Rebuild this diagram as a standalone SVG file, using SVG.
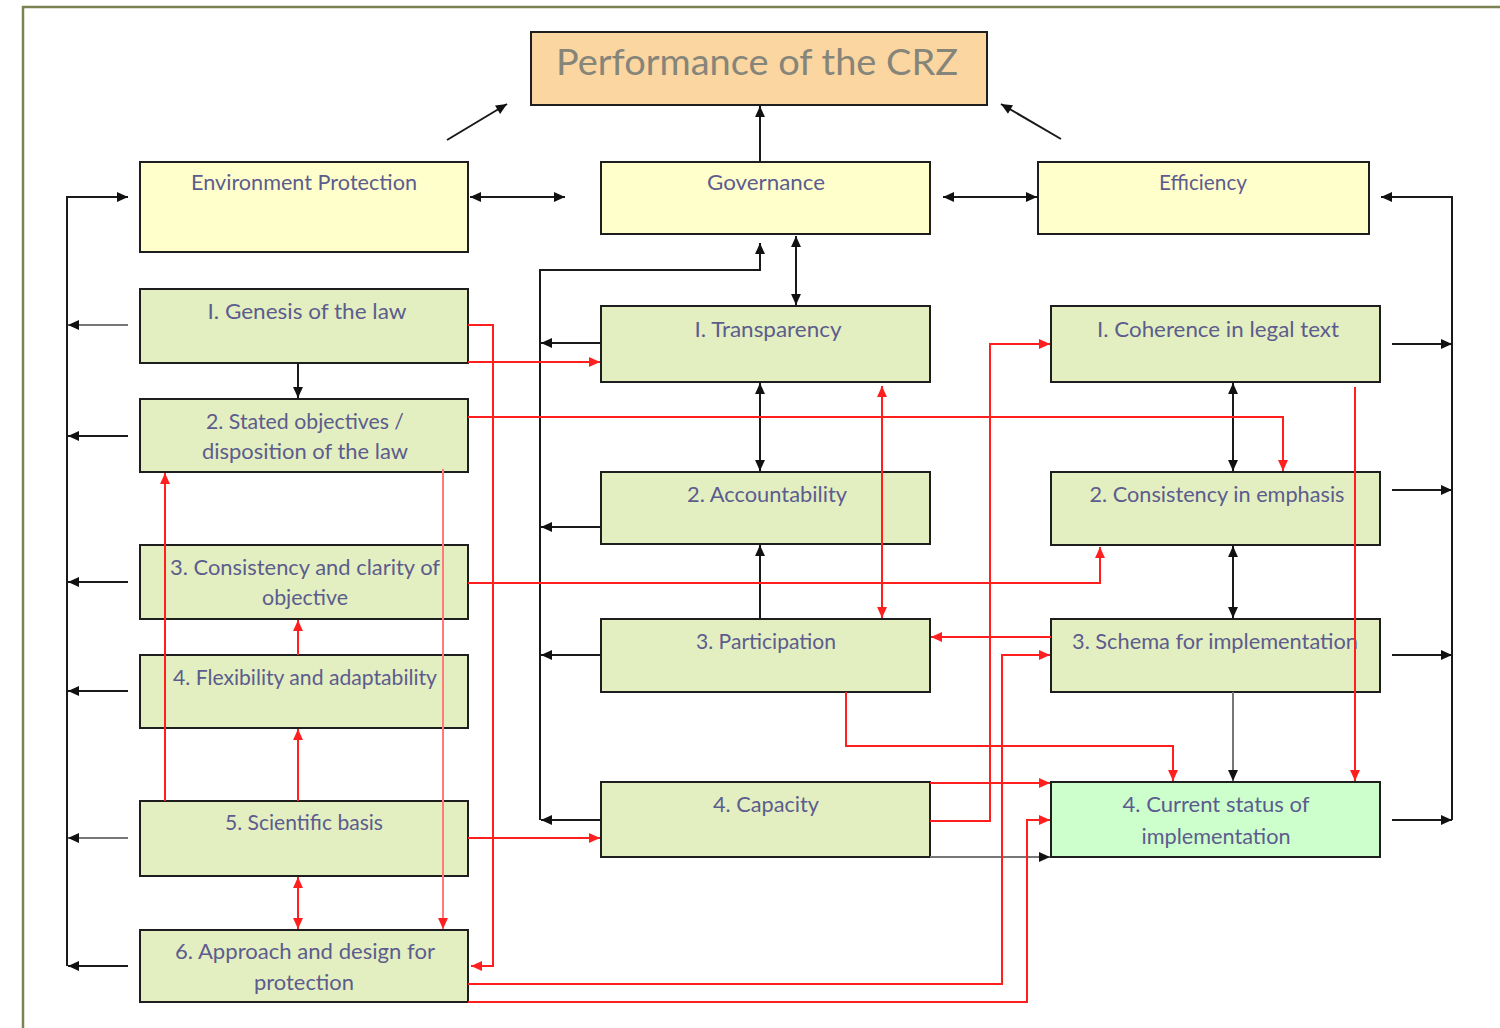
<svg xmlns="http://www.w3.org/2000/svg" width="1500" height="1028" viewBox="0 0 1500 1028">
  <style>
    .box { stroke: #1e1e1e; stroke-width: 2; }
    .top { fill: #ffffcc; }
    .crit { fill: #e3efc0; }
    .done { fill: #ccffcc; }
    .lbl { font-family: Lato, "Open Sans", sans-serif; font-size: 22px; fill: #5c5c8e; text-anchor: middle; }
    .title { font-family: Lato, "Open Sans", sans-serif; font-size: 36px; fill: #85857a; text-anchor: middle; }
    .blk { fill: none; stroke: #1a1a1a; stroke-width: 2; }
    .gry { fill: none; stroke: #777; stroke-width: 2; }
    .red { fill: none; stroke: #ff1f1f; stroke-width: 2; }
    .pink { fill: none; stroke: #ff7a7a; stroke-width: 2; }
  </style>
  <defs>
    <marker id="ab" viewBox="0 0 10 10" refX="10" refY="5" markerWidth="12" markerHeight="11" markerUnits="userSpaceOnUse" orient="auto-start-reverse">
      <path d="M0,0.5 L10,5 L0,9.5 z" fill="#111"/>
    </marker>
    <marker id="ar" viewBox="0 0 10 10" refX="10" refY="5" markerWidth="12" markerHeight="11" markerUnits="userSpaceOnUse" orient="auto-start-reverse">
      <path d="M0,0.5 L10,5 L0,9.5 z" fill="#ff1f1f"/>
    </marker>
  </defs>

  <rect x="0" y="0" width="1500" height="1028" fill="#ffffff"/>
  <!-- page frame -->
  <rect x="23" y="7" width="1520" height="1100" fill="none" stroke="#7c8252" stroke-width="2.5"/>

  <!-- overall goal -->
  <g id="performance">
    <rect class="box" x="531" y="32" width="456" height="73" fill="#fbd6a1"/>
    <text class="title" x="757" y="75" textLength="402" lengthAdjust="spacingAndGlyphs">Performance of the CRZ</text>
  </g>

  <!-- three dimensions -->
  <g id="environment-protection">
    <rect class="box top" x="140" y="162" width="328" height="90"/>
    <text class="lbl" x="304" y="190" textLength="226" lengthAdjust="spacingAndGlyphs">Environment Protection</text>
  </g>
  <g id="governance">
    <rect class="box top" x="601" y="162" width="329" height="72"/>
    <text class="lbl" x="766" y="190" textLength="118" lengthAdjust="spacingAndGlyphs">Governance</text>
  </g>
  <g id="efficiency">
    <rect class="box top" x="1038" y="162" width="331" height="72"/>
    <text class="lbl" x="1203" y="190" textLength="88" lengthAdjust="spacingAndGlyphs">Efficiency</text>
  </g>

  <!-- environment protection criteria -->
  <g id="ep-genesis">
    <rect class="box crit" x="140" y="289" width="328" height="74"/>
    <text class="lbl" x="307" y="319" textLength="199" lengthAdjust="spacingAndGlyphs">I. Genesis of the law</text>
  </g>
  <g id="ep-objectives">
    <rect class="box crit" x="140" y="399" width="328" height="73"/>
    <text class="lbl" x="305" y="429" textLength="198" lengthAdjust="spacingAndGlyphs">2. Stated objectives /</text>
    <text class="lbl" x="305" y="459" textLength="206" lengthAdjust="spacingAndGlyphs">disposition of the law</text>
  </g>
  <g id="ep-consistency">
    <rect class="box crit" x="140" y="545" width="328" height="74"/>
    <text class="lbl" x="305" y="575" textLength="270" lengthAdjust="spacingAndGlyphs">3. Consistency and clarity of</text>
    <text class="lbl" x="305" y="605" textLength="86" lengthAdjust="spacingAndGlyphs">objective</text>
  </g>
  <g id="ep-flexibility">
    <rect class="box crit" x="140" y="655" width="328" height="73"/>
    <text class="lbl" x="305" y="685" textLength="264" lengthAdjust="spacingAndGlyphs">4. Flexibility and adaptability</text>
  </g>
  <g id="ep-science">
    <rect class="box crit" x="140" y="801" width="328" height="75"/>
    <text class="lbl" x="304" y="830" textLength="158" lengthAdjust="spacingAndGlyphs">5. Scientific basis</text>
  </g>
  <g id="ep-approach">
    <rect class="box crit" x="140" y="930" width="328" height="72"/>
    <text class="lbl" x="305" y="959" textLength="260" lengthAdjust="spacingAndGlyphs">6. Approach and design for</text>
    <text class="lbl" x="304" y="990" textLength="100" lengthAdjust="spacingAndGlyphs">protection</text>
  </g>

  <!-- governance criteria -->
  <g id="gov-transparency">
    <rect class="box crit" x="601" y="306" width="329" height="76"/>
    <text class="lbl" x="768" y="337" textLength="147" lengthAdjust="spacingAndGlyphs">I. Transparency</text>
  </g>
  <g id="gov-accountability">
    <rect class="box crit" x="601" y="472" width="329" height="72"/>
    <text class="lbl" x="767" y="502" textLength="160" lengthAdjust="spacingAndGlyphs">2. Accountability</text>
  </g>
  <g id="gov-participation">
    <rect class="box crit" x="601" y="619" width="329" height="73"/>
    <text class="lbl" x="766" y="649" textLength="140" lengthAdjust="spacingAndGlyphs">3. Participation</text>
  </g>
  <g id="gov-capacity">
    <rect class="box crit" x="601" y="782" width="329" height="75"/>
    <text class="lbl" x="766" y="812" textLength="106" lengthAdjust="spacingAndGlyphs">4. Capacity</text>
  </g>

  <!-- efficiency criteria -->
  <g id="eff-coherence">
    <rect class="box crit" x="1051" y="306" width="329" height="76"/>
    <text class="lbl" x="1218" y="337" textLength="242" lengthAdjust="spacingAndGlyphs">I. Coherence in legal text</text>
  </g>
  <g id="eff-emphasis">
    <rect class="box crit" x="1051" y="472" width="329" height="73"/>
    <text class="lbl" x="1217" y="502" textLength="255" lengthAdjust="spacingAndGlyphs">2. Consistency in emphasis</text>
  </g>
  <g id="eff-schema">
    <rect class="box crit" x="1051" y="619" width="329" height="73"/>
    <text class="lbl" x="1215" y="649" textLength="286" lengthAdjust="spacingAndGlyphs">3. Schema for implementation</text>
  </g>
  <g id="eff-status">
    <rect class="box done" x="1051" y="782" width="329" height="75"/>
    <text class="lbl" x="1216" y="812" textLength="187" lengthAdjust="spacingAndGlyphs">4. Current status of</text>
    <text class="lbl" x="1216" y="844" textLength="149" lengthAdjust="spacingAndGlyphs">implementation</text>
  </g>

  <!-- connectors, drawn over the boxes -->
  <g id="connectors">
    <!-- black links -->
    <path class="blk" d="M760,161 V106" marker-end="url(#ab)"/>
    <path class="blk" d="M447,140 L507,104" marker-end="url(#ab)"/>
    <path class="blk" d="M1061,139 L1001,104" marker-end="url(#ab)"/>
    <path class="blk" d="M470,197 H565" marker-start="url(#ab)" marker-end="url(#ab)"/>
    <path class="blk" d="M943,197 H1037" marker-start="url(#ab)" marker-end="url(#ab)"/>
    <path class="blk" d="M1452,820 V197 H1381" marker-end="url(#ab)"/>
    <path class="blk" d="M1392,344 H1452" marker-end="url(#ab)"/>
    <path class="blk" d="M1392,490 H1452" marker-end="url(#ab)"/>
    <path class="blk" d="M1392,655 H1452" marker-end="url(#ab)"/>
    <path class="blk" d="M1392,820 H1452" marker-end="url(#ab)"/>
    <path class="blk" d="M67,966 V197 H128" marker-end="url(#ab)"/>
    <path class="gry" d="M128,325 H68" marker-end="url(#ab)"/>
    <path class="blk" d="M128,436 H68" marker-end="url(#ab)"/>
    <path class="blk" d="M128,582 H68" marker-end="url(#ab)"/>
    <path class="blk" d="M128,691 H68" marker-end="url(#ab)"/>
    <path class="gry" d="M128,838 H68" marker-end="url(#ab)"/>
    <path class="blk" d="M128,966 H68" marker-end="url(#ab)"/>
    <path class="blk" d="M298,363 V398" marker-end="url(#ab)"/>
    <path class="blk" d="M540,820 V270 H760 V243" marker-end="url(#ab)"/>
    <path class="blk" d="M796,236 V305" marker-start="url(#ab)" marker-end="url(#ab)"/>
    <path class="blk" d="M601,343 H541" marker-end="url(#ab)"/>
    <path class="blk" d="M601,527 H541" marker-end="url(#ab)"/>
    <path class="blk" d="M601,655 H541" marker-end="url(#ab)"/>
    <path class="blk" d="M601,820 H541" marker-end="url(#ab)"/>
    <path class="blk" d="M760,383 V471" marker-start="url(#ab)" marker-end="url(#ab)"/>
    <path class="blk" d="M760,619 V545" marker-end="url(#ab)"/>
    <path class="blk" d="M1233,383 V471" marker-start="url(#ab)" marker-end="url(#ab)"/>
    <path class="blk" d="M1233,546 V618" marker-start="url(#ab)" marker-end="url(#ab)"/>
    <path class="gry" d="M1233,692 V781" marker-end="url(#ab)"/>
    <path class="gry" d="M930,857 H1050" marker-end="url(#ab)"/>

    <!-- red links -->
    <path class="red" d="M468,325 H493 V966 H471" marker-end="url(#ar)"/>
    <path class="red" d="M468,362 H600" marker-end="url(#ar)"/>
    <path class="red" d="M468,417 H1283 V471" marker-end="url(#ar)"/>
    <path class="pink" d="M443,469 V929" marker-end="url(#ar)"/>
    <path class="red" d="M468,583 H1100 V547" marker-end="url(#ar)"/>
    <path class="red" d="M165,801 V473" marker-end="url(#ar)"/>
    <path class="red" d="M298,801 V729" marker-end="url(#ar)"/>
    <path class="red" d="M298,655 V620" marker-end="url(#ar)"/>
    <path class="red" d="M298,877 V929" marker-start="url(#ar)" marker-end="url(#ar)"/>
    <path class="red" d="M468,838 H600" marker-end="url(#ar)"/>
    <path class="red" d="M468,984 H1002 V655 H1050" marker-end="url(#ar)"/>
    <path class="red" d="M468,1002 H1027 V820 H1050" marker-end="url(#ar)"/>
    <path class="red" d="M930,821 H990 V344 H1050" marker-end="url(#ar)"/>
    <path class="red" d="M930,783 H1050" marker-end="url(#ar)"/>
    <path class="red" d="M846,692 V746 H1173 V781" marker-end="url(#ar)"/>
    <path class="red" d="M1051,637 H931" marker-end="url(#ar)"/>
    <path class="red" d="M1355,387 V781" marker-end="url(#ar)"/>
    <path class="red" d="M882,386 V618" marker-start="url(#ar)" marker-end="url(#ar)"/>
  </g>
</svg>
